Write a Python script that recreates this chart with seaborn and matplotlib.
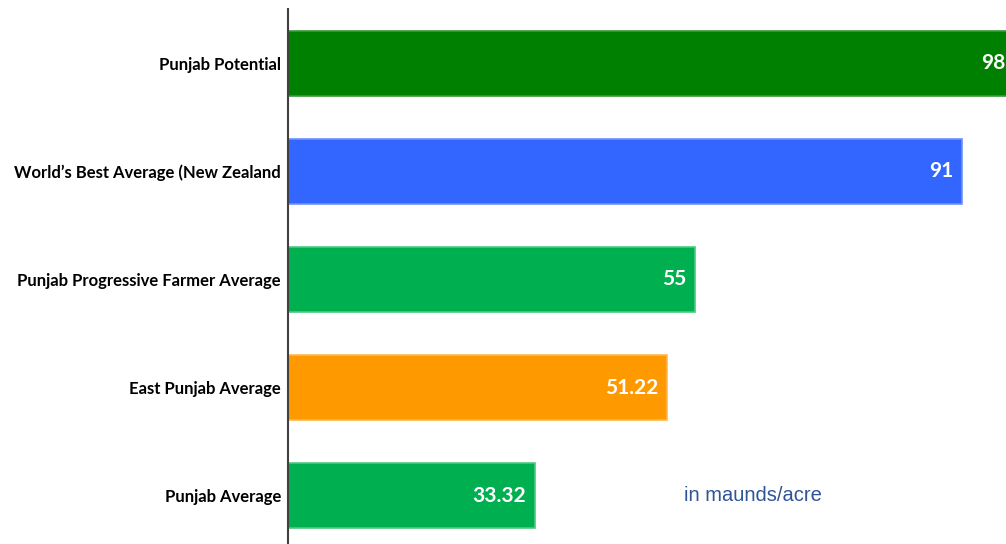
import pandas as pd
import matplotlib.pyplot as plt
import seaborn as sns

sns.set_theme(style="white")
plt.rcParams["font.family"] = ["Lato", "DejaVu Sans"]

categories = [
    "Punjab Potential",
    "World\u2019s Best Average (New Zealand",
    "Punjab Progressive Farmer Average",
    "East Punjab Average",
    "Punjab Average",
]
yields = [98, 91, 55, 51.22, 33.32]
value_labels = ["98", "91", "55", "51.22", "33.32"]
bar_colors = ["#008000", "#3366FF", "#00B050", "#FF9900", "#00B050"]
edge_colors = ["#3A9A3A", "#6E90FF", "#4CC983", "#FFB84D", "#4CC983"]
unit_note = "in maunds/acre"

df = pd.DataFrame({"category": categories, "yield": yields})

fig = plt.figure(figsize=(10.06, 5.44), dpi=100)
ax = fig.add_axes([0.2863, -0.011, 0.7137, 0.9945])

sns.barplot(
    data=df, x="yield", y="category", hue="category",
    palette=bar_colors, orient="h", width=0.6, legend=False, ax=ax,
    saturation=1,
)
for patch, ec in zip(ax.patches, edge_colors):
    patch.set_edgecolor(ec)
    patch.set_linewidth(1.2)

for i, (v, lbl) in enumerate(zip(yields, value_labels)):
    ax.annotate(lbl, xy=(v, i), xytext=(-6, 0), textcoords="offset points",
                ha="right", va="center", color="white", fontsize=15,
                fontweight="bold", annotation_clip=False)

ax.text(0.5515, 4, unit_note, transform=ax.get_yaxis_transform(),
        ha="left", va="center", fontsize=14.5, color="#2F5597",
        family=["Liberation Sans", "DejaVu Sans"])

ax.set_xlim(0, 97)
ax.set_xlabel("")
ax.set_ylabel("")
ax.set_xticks([])
ax.tick_params(axis="y", length=0, pad=5)
for t in ax.get_yticklabels():
    t.set_fontweight("bold")
    t.set_fontsize(12)
    t.set_color("black")
for s in ["top", "right", "bottom"]:
    ax.spines[s].set_visible(False)
ax.spines["left"].set_color("#404040")
ax.spines["left"].set_linewidth(1.5)

fig.savefig("out.png", dpi=100)
